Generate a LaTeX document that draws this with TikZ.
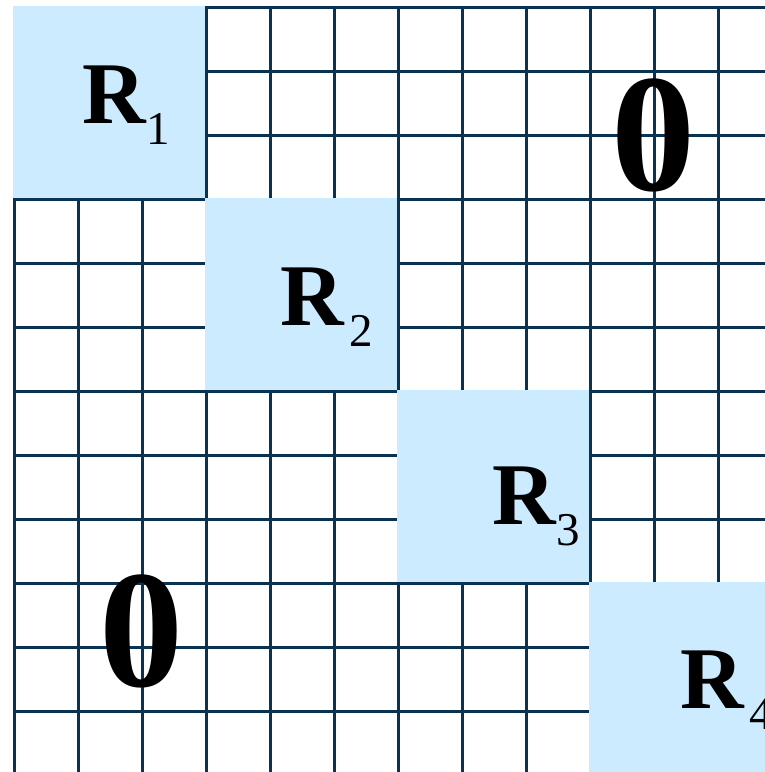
\documentclass[tikz,border=0pt]{standalone}
\usepackage{fontspec}
\setmainfont{Liberation Serif}
\definecolor{gridnavy}{HTML}{0A3352}
\definecolor{blockblue}{HTML}{CCEBFF}
\begin{document}
\begin{tikzpicture}[x=1pt, y=-1pt,
  gridline/.style={gridnavy, line width=3pt},
  block/.style={fill=blockblue},
  bigR/.style={inner sep=0pt, outer sep=0pt, anchor=base west, font=\fontsize{88}{88}\selectfont\bfseries},
  subnum/.style={inner sep=0pt, outer sep=0pt, anchor=base west, font=\fontsize{47}{47}\selectfont},
  zero/.style={inner sep=0pt, outer sep=0pt, anchor=base west, font=\fontsize{168}{168}\selectfont\bfseries}]
  \useasboundingbox (0,0) rectangle (765,772);
  \clip (0,0) rectangle (765,772);

  % 1. grid 12 x 12
  \foreach \i in {0,...,12} {
    \draw[gridline] (14+64*\i,7) -- (14+64*\i,775);
    \draw[gridline] (14,7+64*\i) -- (782,7+64*\i);
  }

  % 2. diagonal blocks
  \foreach \k in {0,...,3}
    \fill[block] (12.5+192*\k,5.5+192*\k) rectangle ++(192,192);

  % 3. block labels
  \node[bigR] (R1) at (82.7,123) {R};
  \node[subnum] (s1) at (146.5,144) {1};
  \node[bigR] (R2) at (280.7,325) {R};
  \node[subnum] (s2) at (349.6,346) {2};
  \node[bigR] (R3) at (492.7,524) {R};
  \node[subnum] (s3) at (556,545) {3};
  \node[bigR] (R4) at (680.7,708) {R};
  \node[subnum] (s4) at (749.4,729) {4};

  % 4. zero blocks
  \node[zero] (zup) at (611,190.8) {0};
  \node[zero] (zlow) at (99,686.8) {0};
\end{tikzpicture}
\end{document}
